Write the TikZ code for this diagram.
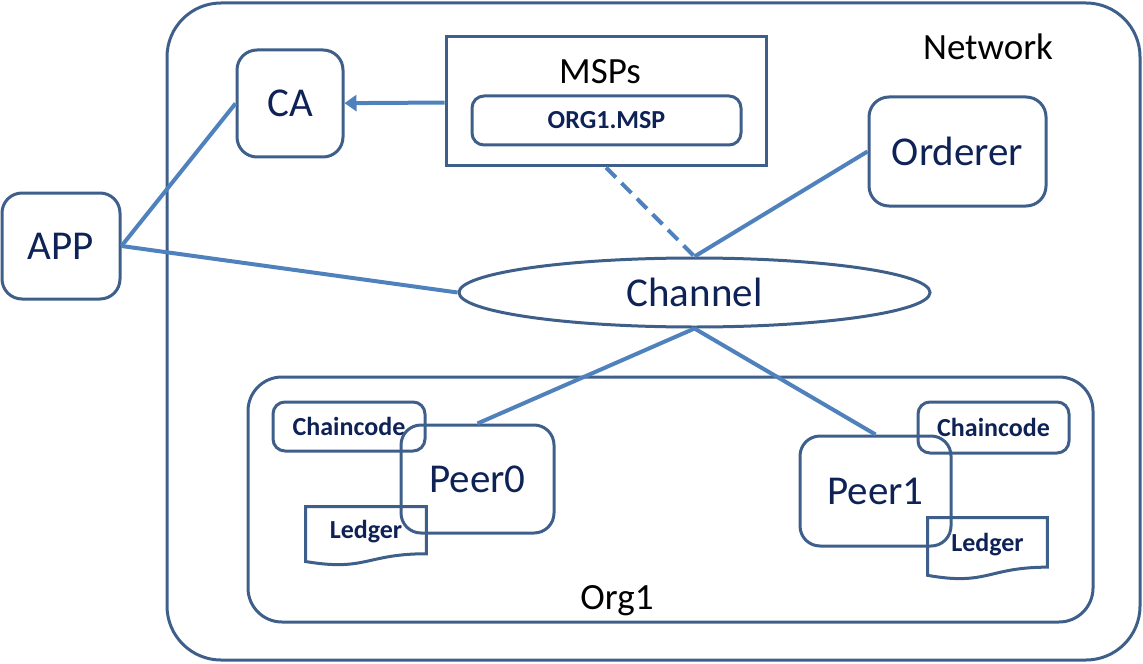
\documentclass[tikz,border=0pt]{standalone}
\usepackage{fontspec}
\setmainfont{Carlito}
\usetikzlibrary{calc,shapes.geometric,arrows.meta}
\definecolor{edge}{RGB}{62,95,138}
\definecolor{wire}{RGB}{79,129,189}
\definecolor{ink}{RGB}{14,34,86}
\tikzset{
	box/.style={draw=edge, line width=1.5pt, rounded corners=10pt, text=ink, inner sep=0pt, font=\fontsize{20.5}{24}\selectfont},
	tag/.style={text=ink, inner sep=0pt, font=\bfseries\fontsize{13}{15}\selectfont},
	title/.style={text=black, inner sep=0pt, font=\fontsize{18.5}{22}\selectfont},
	link/.style={draw=wire, line width=2pt},
}
\def\ledger#1{\draw[draw=edge, line width=1.5pt] (#1.north west) -- (#1.north east) -- ($(#1.north east)!0.802!(#1.south east)$) .. controls ($(#1.north)!0.802!(#1.south)$) and ($(#1.north)!1.107!(#1.south)$) .. ($(#1.north west)!0.934!(#1.south west)$) -- cycle;}

\begin{document}
\begin{tikzpicture}[x=0.5pt, y=-0.5pt]
		%%%%% START %%%%%
		\useasboundingbox (0,0) rectangle (1143,663);
		
		\node[box, rounded corners=27pt, minimum width=486.5pt, minimum height=328.5pt] (net) at (653.5,331.5) {};
		\node[title] (nettext) at (988,47) {Network};
		
		\node[box, minimum width=53pt, minimum height=53.5pt] (ca) at (290,103.5) {CA};
		\node[box, rounded corners=0pt, minimum width=160pt, minimum height=64.5pt] (msps) at (606,101.5) {};
		\node[title] (mspstext) at (600,72) {MSPs};
		\node[box, tag, rounded corners=6pt, minimum width=134.5pt, minimum height=24.5pt] (orgmsp) at (606.5,120.5) {ORG1.MSP};
		\node[box, minimum width=88.5pt, minimum height=54.5pt] (orderer) at (957.5,151.5) {Orderer};
		\node[box, minimum width=59pt, minimum height=53pt] (app) at (61,246) {APP};
		\node[box, ellipse, minimum width=235.5pt, minimum height=34.5pt] (channel) at (694.5,292.5) {Channel};
		
		\node[box, rounded corners=17pt, minimum width=422.5pt, minimum height=122.5pt] (org) at (670.5,499.5) {};
		\node[title] (orgtext) at (617,601) {Org1};
		
		% left peer
		\node[box, tag, rounded corners=6pt, minimum width=76pt, minimum height=24.5pt] (cc0) at (349,426.5) {Chaincode};
		\node[box, minimum width=76.5pt, minimum height=54pt] (peer0) at (477.5,479) {Peer0};
		\node[minimum width=60pt, minimum height=29pt, inner sep=0pt] (led0) at (366,536) {};
		\ledger{led0}
		\node[tag] (led0text) at ([yshift=2pt]led0.center) {Ledger};
		
		% right peer
		\node[box, tag, rounded corners=6pt, minimum width=75.5pt, minimum height=25.5pt] (cc1) at (993.5,427.5) {Chaincode};
		\node[box, minimum width=75.5pt, minimum height=55pt] (peer1) at (875.5,491) {Peer1};
		\node[minimum width=59.5pt, minimum height=30.5pt, inner sep=0pt] (led1) at (987.5,548.5) {};
		\ledger{led1}
		\node[tag] (led1text) at ([yshift=2pt]led1.center) {Ledger};
		
		% connectors
		\draw[link, -{Triangle[length=6pt, width=8pt]}] (msps) -- (ca);
		\draw[link] (app.east) -- (ca.west);
		\draw[link] (app.east) -- (channel.west);
		\draw[link] (orderer.west) -- (channel.north);
		\draw[link, dash pattern=on 7pt off 4pt] (msps.south) -- (channel.north);
		\draw[link] (channel.south) -- (peer0.north);
		\draw[link] (channel.south) -- (peer1.north);
		%%%%% END %%%%%
	\end{tikzpicture}
\end{document}
